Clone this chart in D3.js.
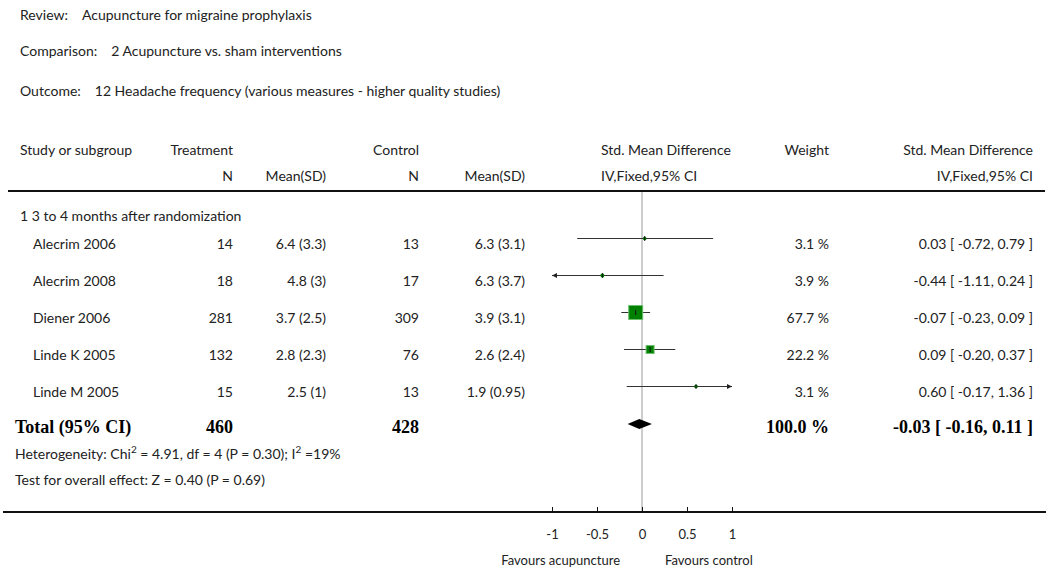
<!DOCTYPE html>
<html>
<head>
<meta charset="utf-8">
<script src="https://cdn.jsdelivr.net/npm/d3@7"></script>
<style>
  body { margin: 0; background: #fff; }
  text { font-family: Lato, "Open Sans", sans-serif; font-size: 14px; fill: #222; }
  .bold { font-family: "Liberation Serif", serif; font-weight: bold; font-size: 18px; fill: #000; }
</style>
</head>
<body>
<div class="chart"></div>
<script>
// data
const studies = ['Alecrim 2006', 'Alecrim 2008', 'Diener 2006', 'Linde K 2005', 'Linde M 2005'];
const treatN = [14, 18, 281, 132, 15];
const treatMeanSD = ['6.4 (3.3)', '4.8 (3)', '3.7 (2.5)', '2.8 (2.3)', '2.5 (1)'];
const controlN = [13, 17, 309, 76, 13];
const controlMeanSD = ['6.3 (3.1)', '6.3 (3.7)', '3.9 (3.1)', '2.6 (2.4)', '1.9 (0.95)'];
const weights = [3.1, 3.9, 67.7, 22.2, 3.1];
const smd = [0.03, -0.44, -0.07, 0.09, 0.60];
const ciLow = [-0.72, -1.11, -0.23, -0.20, -0.17];
const ciHigh = [0.79, 0.24, 0.09, 0.37, 1.36];
const totalN = [460, 428];
const totalEffect = [-0.03, -0.16, 0.11]; // estimate, low, high
const axisTicks = [-1, -0.5, 0, 0.5, 1];

const fullWidth = 1050;
const fullHeight = 572;

const svg = d3.select('.chart')
    .append('svg')
        .attr('width', fullWidth)
        .attr('height', fullHeight)
        .style('display', 'block');

// plain hyphen for minus, like the reference
const locale = d3.formatLocale({decimal: '.', thousands: ',', grouping: [3], currency: ['', ''], minus: '-'});
const fmt = locale.format('.2f');
const fmtCI = (e, l, h) => `${fmt(e)} [ ${fmt(l)}, ${fmt(h)} ]`;

// header block
const meta = [
    ['Review:', 'Acupuncture for migraine prophylaxis', 20],
    ['Comparison:', '2 Acupuncture vs. sham interventions', 56],
    ['Outcome:', '12 Headache frequency (various measures - higher quality studies)', 96]
];
meta.forEach(([label, value, y]) => {
    const t = svg.append('text').attr('x', 20).attr('y', y);
    t.append('tspan').text(label);
    t.append('tspan').attr('dx', 14).text(value);
});

// column positions
const col = {
    study: 20, tN: 233, tMean: 326, cN: 419, cMean: 525,
    plotLabel: 601, weight: 829, effect: 1033
};

function txt(x, y, s, anchor, cls) {
    return svg.append('text')
        .attr('x', x).attr('y', y)
        .attr('text-anchor', anchor || 'start')
        .attr('class', cls || null)
        .text(s);
}

txt(col.study, 155, 'Study or subgroup');
txt(col.tN, 155, 'Treatment', 'end');
txt(col.cN, 155, 'Control', 'end');
txt(col.plotLabel, 155, 'Std. Mean Difference');
txt(col.weight, 155, 'Weight', 'end');
txt(col.effect, 155, 'Std. Mean Difference', 'end');
txt(col.tN, 181, 'N', 'end');
txt(col.tMean, 181, 'Mean(SD)', 'end');
txt(col.cN, 181, 'N', 'end');
txt(col.cMean, 181, 'Mean(SD)', 'end');
txt(col.plotLabel, 181, 'IV,Fixed,95% CI');
txt(col.effect, 181, 'IV,Fixed,95% CI', 'end');

svg.append('line')
    .attr('x1', 8).attr('x2', 1045)
    .attr('y1', 191).attr('y2', 191)
    .attr('stroke', '#111').attr('stroke-width', 2);

txt(col.study, 221, '1 3 to 4 months after randomization');

// scales
const xScale = d3.scaleLinear().domain([-1, 1]).range([552, 732]);
const rowY = d3.scaleBand()
    .domain(studies)
    .range([226, 411])
    .padding(0);
const boxSize = d3.scaleSqrt().domain([0, 100]).range([0, 17]);
const markY = d => rowY(d) + rowY.bandwidth() / 2 - 6;
const textY = d => rowY(d) + rowY.bandwidth() / 2 + 4;

// zero line
svg.append('line')
    .attr('x1', xScale(0)).attr('x2', xScale(0))
    .attr('y1', 192).attr('y2', 512)
    .attr('stroke', '#999').attr('stroke-width', 1);

// study rows text
studies.forEach((s, i) => {
    const y = textY(s);
    txt(col.study + 13, y, s);
    txt(col.tN, y, treatN[i], 'end');
    txt(col.tMean, y, treatMeanSD[i], 'end');
    txt(col.cN, y, controlN[i], 'end');
    txt(col.cMean, y, controlMeanSD[i], 'end');
    txt(col.weight, y, weights[i].toFixed(1) + ' %', 'end');
    txt(col.effect, y, fmtCI(smd[i], ciLow[i], ciHigh[i]), 'end');
});

// CI lines, with arrows when clipped
const [dMin, dMax] = xScale.domain();
const plot = svg.append('g');
studies.forEach((s, i) => {
    const y = markY(s);
    const x1 = xScale(Math.max(ciLow[i], dMin));
    const x2 = xScale(Math.min(ciHigh[i], dMax));
    plot.append('line')
        .attr('x1', x1).attr('x2', x2)
        .attr('y1', y).attr('y2', y)
        .attr('stroke', '#333').attr('stroke-width', 1);
    if (ciLow[i] < dMin) {
        plot.append('path')
            .attr('d', `M${x1},${y}l5,-2.5v5z`)
            .attr('fill', '#222');
    }
    if (ciHigh[i] > dMax) {
        plot.append('path')
            .attr('d', `M${x2},${y}l-5,-2.5v5z`)
            .attr('fill', '#222');
    }
    const b = boxSize(weights[i]);
    plot.append('rect')
        .attr('x', xScale(smd[i]) - b / 2)
        .attr('y', y - b / 2)
        .attr('width', b).attr('height', b)
        .attr('fill', '#008000')
        .attr('stroke', b > 5 ? '#6cbf6c' : 'none')
        .attr('stroke-width', 1);
    plot.append('line')
        .attr('x1', xScale(smd[i])).attr('x2', xScale(smd[i]))
        .attr('y1', y - 2.5).attr('y2', y + 2.5)
        .attr('stroke', '#111').attr('stroke-width', 1);
});

// total row
const totalY = 433;
const dY = 424;
txt(15, totalY, 'Total (95% CI)', 'start', 'bold');
txt(col.tN, totalY, totalN[0], 'end', 'bold');
txt(col.cN, totalY, totalN[1], 'end', 'bold');
txt(col.weight, totalY, '100.0 %', 'end', 'bold');
txt(col.effect, totalY, fmtCI(...totalEffect), 'end', 'bold');

const [tE, tL, tH] = totalEffect;
svg.append('path')
    .attr('d', `M${xScale(tL)},${dY}L${xScale(tE)},${dY - 5}L${xScale(tH)},${dY}L${xScale(tE)},${dY + 5}Z`)
    .attr('fill', '#000');

const het = svg.append('text').attr('x', 15).attr('y', 459);
het.append('tspan').text('Heterogeneity: Chi');
het.append('tspan').attr('baseline-shift', 'super').style('font-size', '10px').text('2');
het.append('tspan').text(' = 4.91, df = 4 (P = 0.30); I');
het.append('tspan').attr('baseline-shift', 'super').style('font-size', '10px').text('2');
het.append('tspan').text(' =19%');
txt(15, 485, 'Test for overall effect: Z = 0.40 (P = 0.69)');

// bottom axis
svg.append('line')
    .attr('x1', 3).attr('x2', 1046)
    .attr('y1', 512).attr('y2', 512)
    .attr('stroke', '#111').attr('stroke-width', 2);

const xAxis = d3.axisTop(xScale)
    .tickValues(axisTicks)
    .tickFormat(locale.format(''))
    .tickSize(5)
    .tickSizeOuter(0);
const ax = svg.append('g')
    .attr('transform', 'translate(0, 512)')
    .call(xAxis);
ax.select('.domain').remove();
ax.selectAll('.tick line').attr('stroke', '#111');
ax.selectAll('.tick text')
    .attr('y', 27)
    .attr('dy', 0)
    .style('font-family', 'Lato, sans-serif')
    .style('font-size', '13px')
    .attr('fill', '#222');

txt(xScale(0) - 22, 565, 'Favours acupuncture', 'end').style('font-size', '13px');
txt(xScale(0) + 23, 565, 'Favours control', 'start').style('font-size', '13px');
</script>
</body>
</html>
